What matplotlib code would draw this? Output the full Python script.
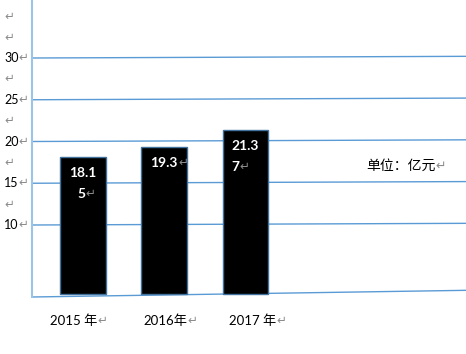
import textwrap
import matplotlib
matplotlib.use('Agg')
import matplotlib.pyplot as plt
import matplotlib.transforms as mtrans

# data
years = ['2015 年', '2016年', '2017 年']
values = [18.15, 19.3, 21.37]
grid_values = [10, 15, 20, 25, 30]
tick_labels = ['10', '', '15', '', '20', '', '25', '', '30', '', '']
tick_values = [10, 12.5, 15, 17.5, 20, 22.5, 25, 27.5, 30, 32.5, 35]
unit_text = '单位：亿元'

# layout (pixels)
W, H = 466, 354
px_per_unit = 8.35
y10 = 225
base = 10 - (294 - y10) / px_per_unit
line_base = 10 - (297 - y10) / px_per_unit
tilt = 0.2
base_tilt = 0.8
xlabel_shift = [-0.11, 0.01, 0.09]
second_align = ['center', 'center', 'left']

num_font = ['Lato', 'Noto Sans CJK SC', 'DejaVu Sans']
cjk_font = ['Noto Sans CJK SC', 'DejaVu Sans']
arrow_font = ['DejaVu Sans']
grey = '#8c8c8c'
blue = '#5b9bd5'

fig = plt.figure(figsize=(W / 100, H / 100), dpi=100)
ax = fig.add_axes([32 / W, 1 - 300 / H, 434 / W, 300 / H])
ax.set_ylim(10 - (300 - y10) / px_per_unit, 10 + y10 / px_per_unit)
ax.set_xlim(-51 / 81.25, 383 / 81.25)
for s in ['top', 'right', 'bottom']:
    ax.spines[s].set_visible(False)
ax.spines['left'].set_color('#9dc3e6')
ax.spines['left'].set_linewidth(1.5)
ax.spines['left'].set_bounds(line_base, ax.get_ylim()[1])
ax.set_xticks([])
ax.set_yticks([])

yax = ax.get_yaxis_transform()
for v in grid_values:
    ax.plot([0, 1], [v, v + tilt], transform=yax, color=blue, lw=1.0, clip_on=False)
ax.plot([0, 1], [line_base, line_base + base_tilt], transform=yax, color=blue, lw=1.0, clip_on=False)

x = list(range(len(values)))
ax.bar(x, [v - base for v in values], bottom=base, width=0.566,
       color='black', edgecolor='#41719c', linewidth=1.0, zorder=3)


def add_arrow(txt, size):
    ax.annotate('↵', xy=(1, 0), xycoords=txt, ha='left', va='bottom',
                fontsize=size, color=grey, family=arrow_font, annotation_clip=False)


# y labels (left-aligned text at the figure edge)
ytr = mtrans.blended_transform_factory(fig.transFigure, ax.transData)
for v, lab in zip(tick_values, tick_labels):
    if lab:
        t = ax.text(4 / W, v, lab, transform=ytr, ha='left', va='center',
                    fontsize=9, family=num_font, color='black')
        add_arrow(t, 8.5)
    else:
        ax.text(4 / W, v, '↵', transform=ytr, ha='left', va='center',
                fontsize=8.5, family=arrow_font, color=grey)

# year labels
xtr = mtrans.blended_transform_factory(ax.transData, fig.transFigure)
for i, lab in enumerate(years):
    t = ax.text(i + xlabel_shift[i], 1 - 321 / H, lab, transform=xtr, ha='center',
                va='center', fontsize=9.5, family=num_font, color='black')
    add_arrow(t, 8.5)

# value labels inside bars
bold_font = ['Lato', 'DejaVu Sans']
for i, v in enumerate(values):
    parts = textwrap.wrap(str(v), 4)
    t1 = ax.annotate(parts[0], xy=(i, v), xytext=(0, -16), textcoords='offset pixels',
                     ha='center', va='center', fontsize=10, fontweight='bold',
                     family=bold_font, color='white', zorder=5)
    last = t1
    if len(parts) > 1:
        if second_align[i] == 'left':
            t2 = ax.annotate(parts[1], xy=(0, 0), xycoords=t1, xytext=(0, -21),
                             textcoords='offset pixels', ha='left', va='bottom',
                             fontsize=10, fontweight='bold', family=bold_font,
                             color='white', zorder=5)
        else:
            t2 = ax.annotate(parts[1], xy=(i, v), xytext=(-2, -37), textcoords='offset pixels',
                             ha='center', va='center', fontsize=10, fontweight='bold',
                             family=bold_font, color='white', zorder=5)
        last = t2
    add_arrow(last, 8.5)

t = fig.text(366 / W, 1 - 166 / H, unit_text, ha='left', va='center',
             fontsize=10, family=cjk_font, color='black')
add_arrow(t, 9)

fig.savefig('out.png', dpi=100)
